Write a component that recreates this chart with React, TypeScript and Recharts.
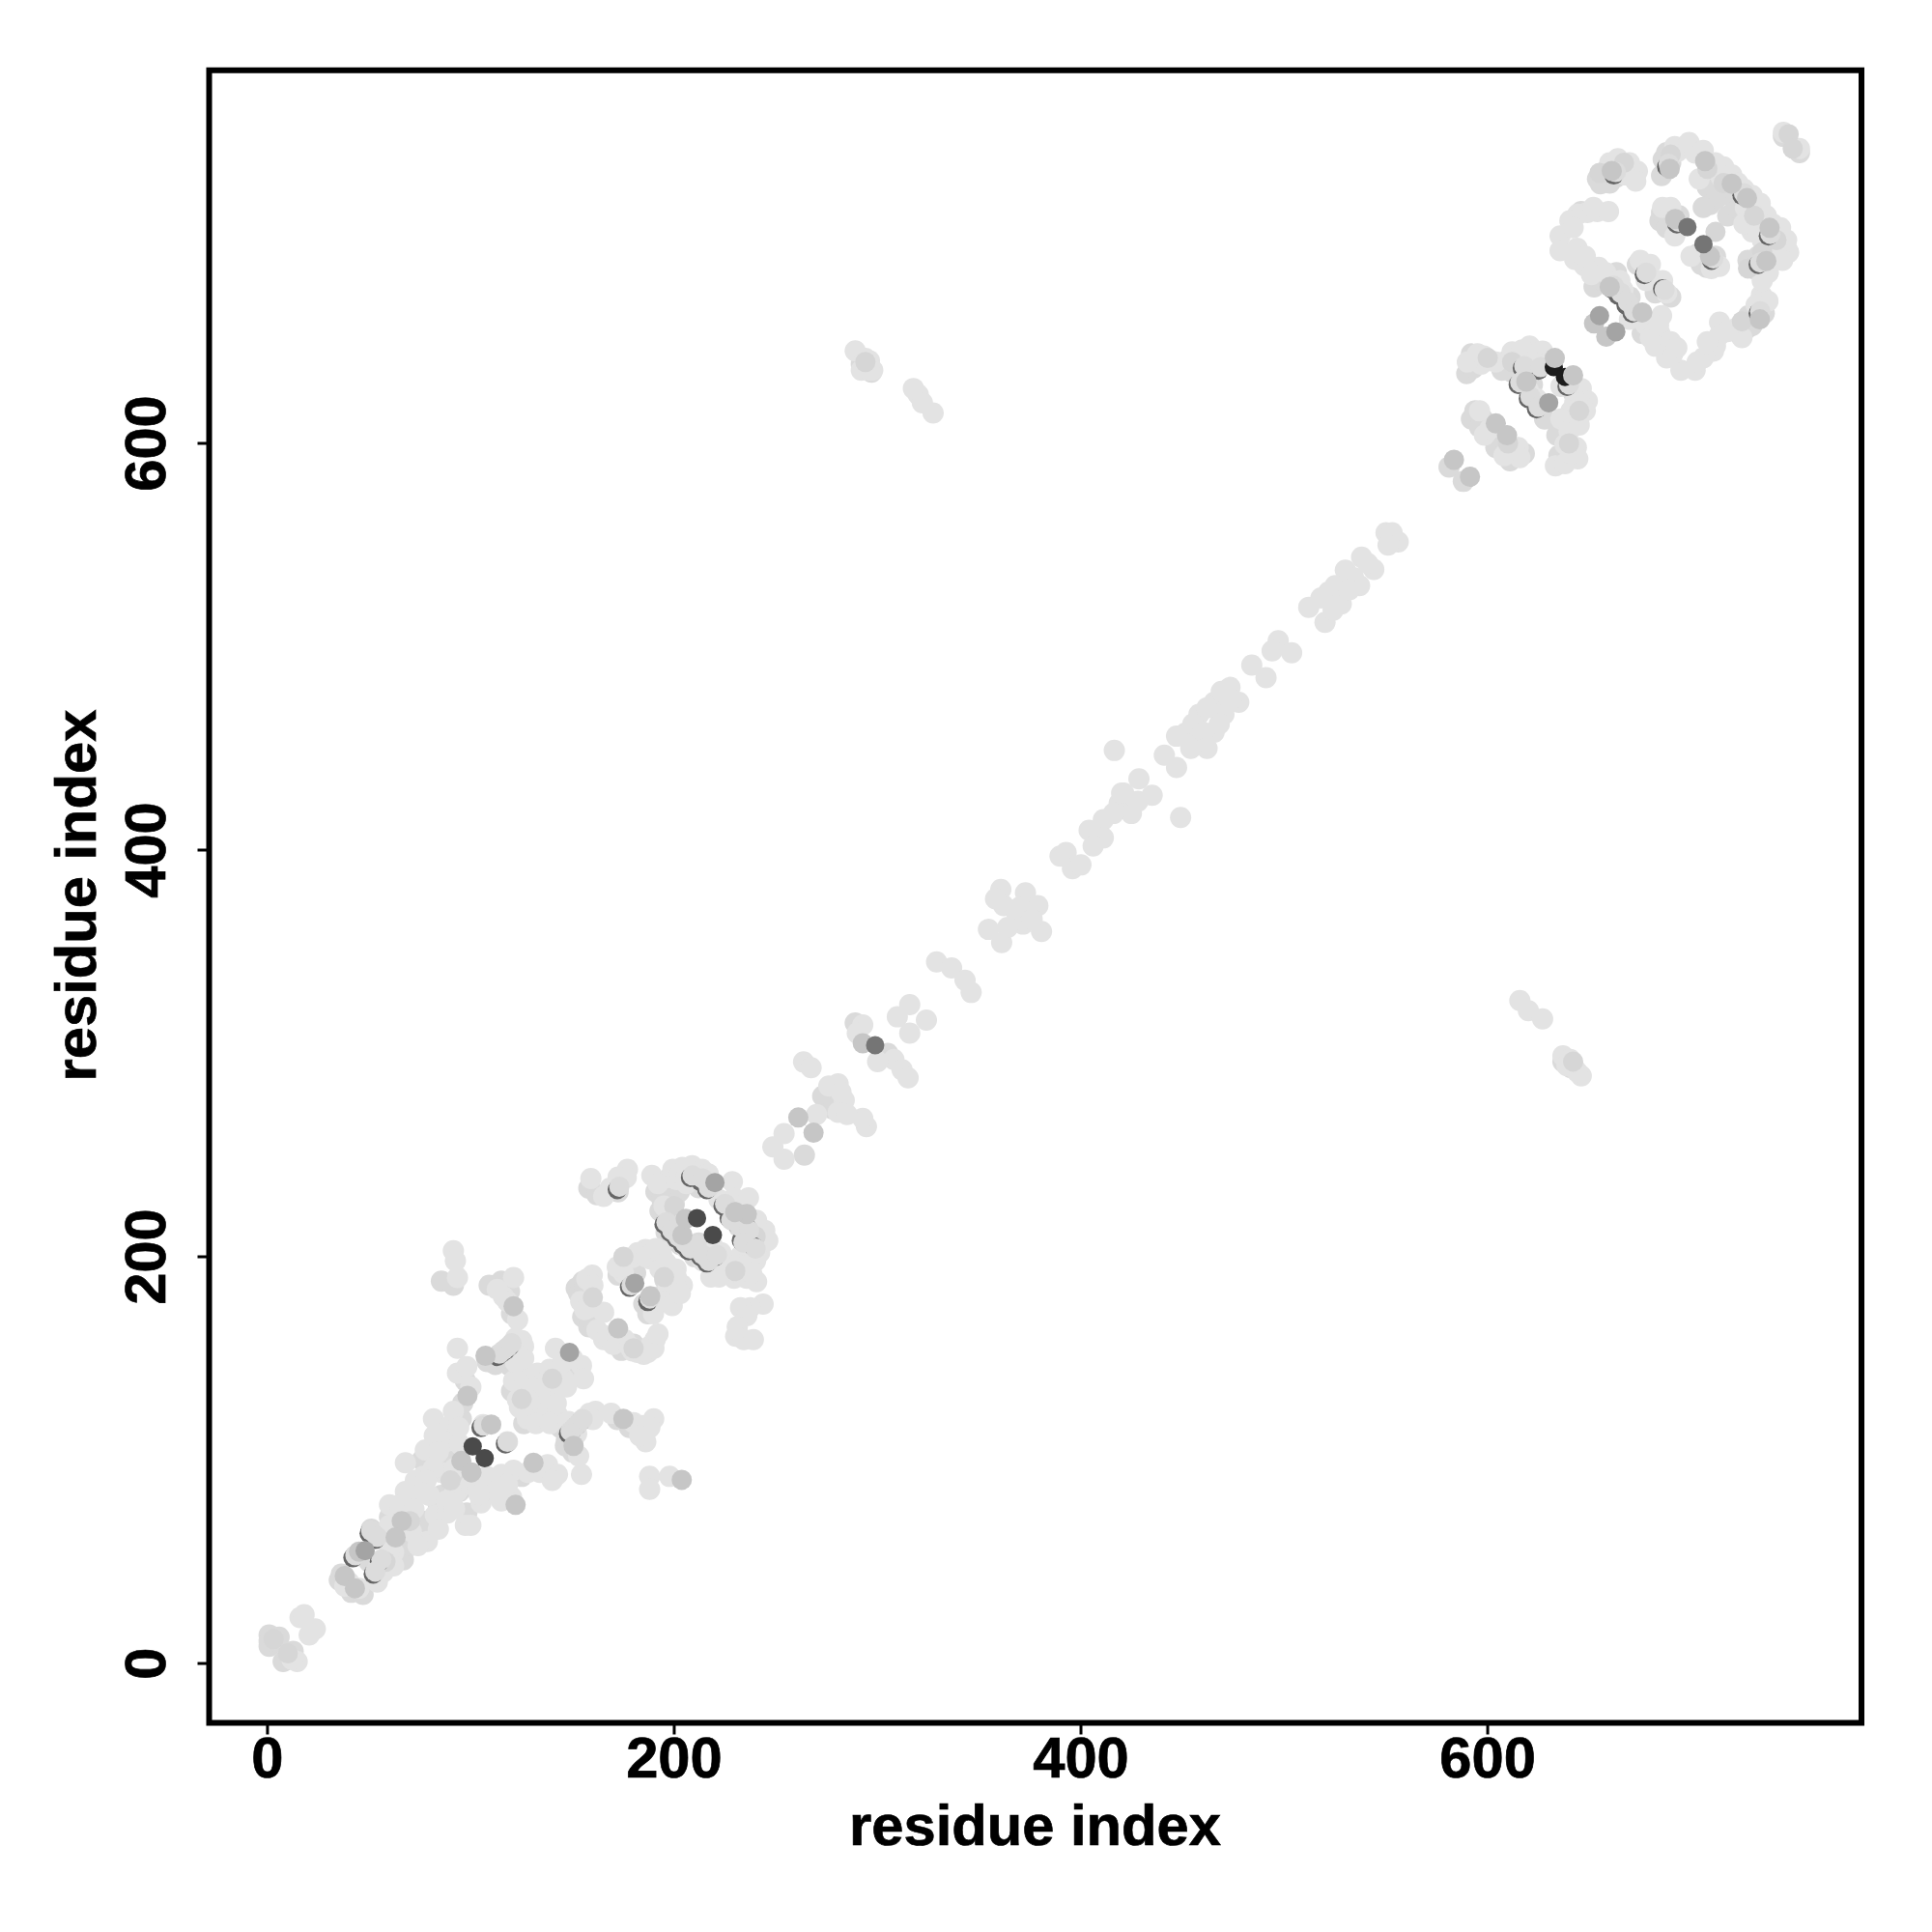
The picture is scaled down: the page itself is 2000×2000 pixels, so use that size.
import React from "react";
import { ScatterChart, Scatter, XAxis, YAxis, ReferenceArea } from "recharts";

const FONT = '"Liberation Sans", Arial, sans-serif';
const tickValues = [0, 200, 400, 600];
const axisTitle = "residue index";

type P = [number, number];

const paleLight: P[] = [
  [0.8,14],[0.8,8.5],[0.8,11],[5.7,13],[7.7,1],[12.6,6],[10,2],
  [36.3,44],[35.3,41],[41.2,35],[43,52.7],[51,66],[53,41],[66.8,51],[75.7,69.6],[85.5,82.7],[94.4,84.6],
  [109,186],[115,188],[119,183],[85.5,188],[91.4,186],[97.3,139],[95.3,120.3],[108,148.5],[119,146.6],[150,104],[146.5,107],
  [158,233.7],[162,230.5],[172.4,232],[191,232],[193,222.6],[197.7,233.7],[202.5,232],[196,218],[199.3,214],[208.8,204.4],[212,206.8],[234.2,208.4],[229.4,219.5],[231.8,214.7],
  [155,187.8],[151.8,184.6],[155,170.4],[158,165.6],[175.6,195.7],[172.4,191],[185,176.7],[195.4,188.6],
  [264,250],[273,279],[278,272.7],[289,315],[305,300],[592,644],[589.7,634.3],[609.5,640.6],[619,642.2],[642,625],[639.6,612],[636.4,609],[622,628.8],
  [592,612],[593.7,616],[597.6,612],[604,598],[611,591.5],[639.6,592.4],[581,588.4],[588,581.3],
  [657,733.3],[655.4,727.7],[663.3,731],[685.5,731.7],[686.3,739.6],[684.7,709.5],[685.5,713.5],[741.7,692.9],[731.4,685.8],[728.3,662.8],[727.5,656.5],[652.3,677],[663.3,684],
  [745.4,751],[753.3,743],[637,296],[641,293],[292,639],[297,635],[703,693],[707.7,686.6],[709.3,717.5],[718,711.9],[673.6,688],[682.4,674],
  [194,228],[200,226],[212,234],[196,212],[203,206],[210,200],[218,200],[226,198],[236,210],[240,208],[238,215],
  [153,182],[160,168],[174,154],[180,157],[156,184],[178,196],[181,192],[191,180],[187,172],
  [120,172],[116,150],[112,147],[120,134],[126,118],[144,116],[147,110],[152,143],[172,120],[178,116],
  [96,128],[92,112],[85,114],[76,100],[88,100],[96,90],[110,88],[125,92],[72,82],[84,78],[98,74],[60,72],[78,70],[70,58],[66,60],[58,62],[50,50],[47,34],
  [593,637],[607,636],[616,634],[612,635],[628,612],[634,604],[596,608],[606,603],[618,595],[635,594],
  [660,728],[654,730],[646,714],[690,738],[688,743],[722,716],[715,722],[708,726],[712,720],[706,716],[733,692],[728,690],[736,664],[730,658],[694,712],[688,706],[705,688],[712,692],[656,680],[662,678],[670,672],[676,654],[680,660],[690,672]
];

const mainLight: P[] = [
  [16,22.6],[18,24],[23.5,17],[20.5,14],[14.6,1],[12,2],
  [45,37],[55,49],[57,45],[62,54.6],[60,68],[68,75],[65,70.5],[60,78],[70.7,65],[78.6,60],[82.5,73],[88.5,74],[97.3,68],[100,68],[91.4,82.7],[79.6,82.7],[76.6,92],[67.8,98.7],[85.5,94],[81.6,96],[72.7,90],[67.8,84.6],
  [81.6,120.3],[89.4,116.5],[87.5,109],[77.6,105],[94.4,108],[91.4,124],[93.4,155],[93.4,142.8],[91.4,203],[92.4,198],[93.4,189.8],
  [121,189.8],[116,180.4],[123,169],[119,156],[125,158.8],[125.9,156],[141.6,155],[154.4,146.6],[155.4,140],
  [121,139],[126.9,141],[132.8,142.8],[138.7,144.7],[122.9,129.7],[128.8,127.8],[134.7,131.6],[140.6,133.4],[145.6,140],[123.9,125.9],[130.8,122.2],[137.7,124],[142.6,122.2],[127.8,120.3],[134,137],[142,128],
  [155.4,120.3],[158.4,123],[161.3,124],[154.4,93],[169,123],[180,118.4],[186,114.7],[189.9,120.3],[186,109],[187.9,92],[187.9,85.6],[197.7,92],
  [106,117.5],[118,109],[108,92],[115,93],[121,95],[137.7,97.8],[142.6,93],[120,81.8],[105,79],[112,84.6],[93.4,84.6],[100,88],
  [159,238.5],[168.4,233.7],[172.4,239.2],[177,243],[176.4,239],[165.3,229.7],
  [189,240],[197.7,239],[199.3,243],[204,244],[208.8,244.8],[213.6,243],[216.7,240.8],[228.6,236.9],[222,228.2],[229.4,229],[236.5,229],
  [213.6,202],[216.7,197.3],[220,194],[224.7,192.5],[223,202],[219,205],[229.4,189.4],[235.7,189.4],[240.5,187.8],[232.6,200.4],[237.3,202],[243.7,206.8],[244.5,213],[240.5,217.9],[239,203.6],
  [243.7,176.7],[237.3,175],[232.6,175],[235.7,171],[231,165.6],[230.2,160.9],[234.2,159.3],[238.9,159.3],
  [159.7,191],[154,178],[158,175],[165.3,172.7],[165.3,159.3],[170,156.9],[175.6,159.3],[179.5,153.7],[185,152],[190.6,159.3],[188,156],
  [185.9,203.6],[179.5,199.7],[188.2,198.9],[193.8,201.2],[200.9,194],[198.5,191],[204,186],[190.6,175.9],[189.8,172],[197,177.5],[200,180.6],
  [248.5,254],[254,248],[254,260.6],[263.6,295.8],[267.3,293],[280.6,285],[283.6,277],[280.6,271],[294.5,264],[292.7,268],
  [292.7,314],[308,297],[312,292],[315,288],[309.7,318],[315.8,324],[315.8,310],[324,316.4],
  [329,345],[336.4,342],[343,336],[346,330],
  [354.5,361],[361,354.5],[360.6,380.6],[372.7,379],[362,372.7],[368.5,368.5],[378.8,372.7],[380.6,360],[371.5,363.6],
  [389.7,397],[392.7,398.8],[395.8,390.9],[400,392.7],
  [404,409.7],[411,415],[411,406],[418.8,423],[424.8,418],[428.5,435],[435,427],[421,428],
  [416.4,449],[441,446.7],[447,440.6],[449,416],
  [451.5,457.6],[458,466.7],[457.6,452.7],[465.5,458],[465.5,472.7],[473.3,480],[477.6,472.7],[470.3,466.7],
  [484,491],[491,484.8],[497,503],[494,498],[503.6,497],
  [512,519.4],[520,512],[521.8,527],[528,521],[530,537.6],[537,530],[538,544],[544,538],[550,556],[556,551.5],[553,556],
  [289,645.5],[294,641.8],[296,640.6],[297.6,636],[317.6,627],[320,624],[322,620],[327.3,615],
  [615.8,326],[620,321],[627,317],[637,298.8],[640.6,297],[642,294],[646,289],
  [595,644],[596.8,639],[600,640.6],[614.3,643.8],[620.6,647.8],[627,645.4],[646,627],[649,620.9],[642.8,620],[645,613.7],
  [598.4,604],[615,598],[615.8,593],[633.3,589],[638,599.5],[643.6,598],[644.3,592.4],
  [673.6,733.8],[669.7,738],[665,736.5],[672.8,729],[659.4,714],[653.8,714],[649,713.5],[644.3,712.7],[640.4,709.5],[635.6,702],[635.6,694.8],
  [693.4,743.6],[696.6,746],[702,742.8],[710,734.9],[714.8,730.9],[731.4,715],[733.8,710],[742.5,702.4],[746.5,696.9],
  [726.7,715.9],[714,687],[734.6,673],[737.8,670],[714,659.6],[714,653.3],[722,656.5],[711,645.4],[706,642],[702,636],[695,636],
  [642.8,690.5],[647.5,687.4],[654.6,686.6],[666.5,675.5],[669.7,661],[677.6,658.6],[685.5,662.8],[684.7,654],[687,649.4],[691,644],[688,642],[682.4,647.8],
  [677.6,684],[688,674],[745.4,753],[753.3,745],
  [192,236],[195,225],[201,238],[203,241],[206,240],[210,240],[214,239],[218,236],[206,236],[200,209],[206,204],[214,198],[222,197],[226,196],[228,192],[232,193],[236,196],[240,198],[242,202],[241,212],[230,195],[234,190],[238,192],[218,190],[222,190],[243,210],[246,208],
  [157,189],[156,174],[162,164],[167,161],[172,160],[178,156],[182,153],[187,153],[190,155],[192,162],[160,186],
  [182,202],[186,200],[191,204],[175,192],[172,195],[193,194],[197,185],[201,190],[194,178],[199,176],[203,182],[196,197],
  [113,184],[118,178],[122,160],[122,148],[126,150],[125,135],[130,134],[136,136],[142,138],[147,136],[132,118],[139,118],[148,119],[152,113],[160,120],[153,102],[145,148],[150,150],[184,117],[188,116],[183,112],
  [98,146],[100,136],[94,116],[82,112],[84,104],[78,90],[92,96],[103,88],[118,88],[128,94],[134,94],[140,90],[76,84],[88,80],[92,76],[104,83],[115,80],[65,78],[72,76],[84,66],[60,56],[74,58],[62,48],[54,40],[40,40],[38,38],
  [590,640],[598,643],[604,640],[612,645],[617,646],[622,640],[630,640],[636,628],[645,620],[648,616],[641,616],[636,612],[640,606],[645,609],[624,622],[620,626],[601,607],[612,596],[596,616],[608,594],[638,590],[641,595],
  [660,738],[664,740],[668,732],[652,716],[642,706],[692,746],[699,748],[706,744],[712,738],[716,736],[720,732],[723,728],[726,725],[730,722],[734,718],[737,712],[740,708],[744,706],[747,700],[748,694],[745,690],[740,696],[735,700],[730,704],[726,708],[704,730],[738,684],[735,680],[732,668],[725,652],[718,655],[712,648],[708,650],[703,640],[686,716],[690,716],[692,702],[700,692],[710,686],[644,696],[648,692],[651,683],[658,684],[665,680],[672,664],[680,652],[684,658],[690,650],[693,647],[675,690],[680,688],[678,680],[686,680],
  [447,456],[455,462],[460,458],[462,450],[468,462],[474,474],[469,478],[462,470],[454,450],[518,524],[525,530],[534,534],[541,541],[524,518],[532,528],[364,362],[370,372],[376,366],[358,376],[285,270],[270,270],[276,284],[282,281],[290,310],[300,296],[420,428],[428,424],[416,418],[406,402],[292,636],[296,636],[639,294],[644,291],[551,550]
];

const toneLayer: P[] = [
  [655,733],[667,738],[690,742],[708,735],[716,728],[731,712],[742,700],[735,694],[728,686],[725,660],[712,704],
  [600,642],[612,640],[645,616],[640,600],[610,600],[200,225],[240,210],[230,193],[160,180],[180,155],[175,200],[195,190],
  [125,130],[140,140],[90,90],[70,70],[58,50],[10,5],[3,12],[294,640],[642,296],[748,752],[750,745]
];

const ridgeShadow: P[] = [
  [42,52],[52,44],[55,50],[50,64],[53,61],
  [113,151],[115,152.5],[117,154],[119,156],[148,113],[150,115],[152,117],[154,119],
  [195,216],[198,212],[201,209],[204,206],[207,203],[210,205],[213,200],[216,197],[220,200],
  [227,219],[231,216],[236,214],[233,208],[239,205],[208,239],[213,237],[216,233],[224,225],
  [178,185],[187,178],[172,233],[105,116],[117,108],
  [615,629],[620,622],[624,617],[639,628],[617,637],[625,636],
  [664,673],[668,668],[671,664],[661,676],[677,683],[686,676],[693,708],[710,690],[688,736],[662,732],[738,702],[733,688],[725,722],[733,664]
];

const ridgeCap: P[] = [
  [43.2,53.2],[53,45.2],[56,51.2],[51,65.2],[54,62.2],
  [114,152.4],[116,154],[118,155.5],[120,157.5],[149,114.2],[151,116.2],[153,118.2],[155,120.2],
  [196.2,217],[199,213],[202,210],[205.2,207],[208,204],[211,206],[214,201],[217,198],[221,201],
  [228,218],[232,215],[236.8,213],[234,207],[240,204],[209,240],[214,238.5],[217,234],[225,226],
  [179,186],[188,179.5],[173,234.5],[106.3,117],[118,109],
  [616,630],[621,623],[625,618],[640,629],[618,638],[626,637.5],
  [665.5,674],[669,669.5],[672,665],[662,677.5],[678,684],[687,675.5],[694,709],[711,691],[689,737.5],[663,733.5],[739,703],[734,689],[726,723],[734,665]
];

const softPoints: P[] = [
  [45,55],[38,43],[43,37],[66,70],[63,62],[107.2,151.3],[121,175.7],[98.3,131.6],[175,120.3],[150.5,107],[203.7,90.3],
  [110,117.5],[95.3,99.6],[100.3,94],[130.8,98.7],[122,78],[204,210.7],[205.7,218.7],[235.7,221],[230,222],
  [188.2,180.6],[172.4,164.8],[261,268.5],[268.5,261],[292.7,305],
  [604,609.8],[609.5,604],[583.4,591.9],[591.3,583.6],[633,642],[642,633.5],[619,630.4],
  [661,734],[689.5,735],[706.9,738.8],[720,727.7],[727.5,720.6],[738.6,706],[737,689.7],[692.2,710.3],[709.3,692],[733.8,661],
  [660,677],[676,664.4],[658.3,652.5],[652.3,659]
];

const greyPoints: P[] = [[48,55.5],[148.5,153],[180.6,187],[220,236.5],[655,662.8],[663,654.9],[630,620]];
const slatePoints: P[] = [[698.2,706.4],[706.1,698],[298.8,304]];
const darkPoints: P[] = [[100.9,106.8],[106.8,101],[211.2,219],[219,210.7]];
const blackPoints: P[] = [[632.5,637.5],[638,632.7]];

const toRows = (pts: P[]) => pts.map(([x, y]) => ({ x, y }));

const dot = (fill: string, r: number) => (props: any) => (
  <circle cx={props.cx} cy={props.cy} r={r} fill={fill} />
);

const textStyle = {
  fontFamily: FONT,
  fontWeight: 700,
  fontSize: 59.7,
  fill: "#000",
  stroke: "#000",
  strokeWidth: 0.7,
};

const XTick = (props: any) => (
  <text x={props.x} y={1840} textAnchor="middle" style={textStyle}>
    {props.payload.value}
  </text>
);
const YTick = (props: any) => (
  <text x={171} y={props.y} textAnchor="middle" transform={`rotate(-90 171 ${props.y})`} style={textStyle}>
    {props.payload.value}
  </text>
);

export default function App() {
  return (
    <div style={{ position: "absolute", left: 0, top: 0, width: 2000, height: 2000, background: "#fff" }}>
      <ScatterChart width={2000} height={2000} margin={{ left: 116.5, top: 72.7, right: 73, bottom: 116.5 }}>
        <XAxis
          type="number"
          dataKey="x"
          domain={[-28.7, 783.8]}
          ticks={tickValues}
          allowDataOverflow
          height={100}
          axisLine={false}
          tickSize={12}
          tickLine={{ stroke: "#000", strokeWidth: 3 }}
          tick={XTick}
          interval={0}
          label={{
            content: () => (
              <text x={1071.5} y={1910} textAnchor="middle" style={textStyle}>
                {axisTitle}
              </text>
            ),
          }}
        />
        <YAxis
          type="number"
          dataKey="y"
          domain={[-29.2, 783.5]}
          ticks={tickValues}
          allowDataOverflow
          width={100}
          axisLine={false}
          tickSize={12}
          tickLine={{ stroke: "#000", strokeWidth: 3 }}
          tick={YTick}
          interval={0}
          label={{
            content: () => (
              <text x={99} y={927} textAnchor="middle" transform="rotate(-90 99 927)" style={textStyle}>
                {axisTitle}
              </text>
            ),
          }}
        />
        <Scatter data={toRows(paleLight)} isAnimationActive={false} shape={dot("#dadada", 11)} />
        <Scatter data={toRows(mainLight)} isAnimationActive={false} shape={dot("#e3e3e3", 11)} />
        <Scatter data={toRows(toneLayer)} isAnimationActive={false} shape={dot("#d6d6d6", 10.5)} />
        <Scatter data={toRows(ridgeShadow)} isAnimationActive={false} shape={dot("#666666", 10)} />
        <Scatter data={toRows(ridgeCap)} isAnimationActive={false} shape={dot("#dcdcdc", 10.5)} />
        <Scatter data={toRows(blackPoints)} isAnimationActive={false} shape={dot("#1c1c1c", 9.5)} />
        <Scatter data={toRows(softPoints)} isAnimationActive={false} shape={dot("#c6c6c6", 10.5)} />
        <Scatter data={toRows(greyPoints)} isAnimationActive={false} shape={dot("#a4a4a4", 10)} />
        <Scatter data={toRows(slatePoints)} isAnimationActive={false} shape={dot("#757575", 9.5)} />
        <Scatter data={toRows(darkPoints)} isAnimationActive={false} shape={dot("#4a4a4a", 9.5)} />
        <ReferenceArea x1={-28.7} x2={783.8} y1={-29.2} y2={783.5} fill="none" stroke="#000" strokeWidth={6} />
      </ScatterChart>
    </div>
  );
}
